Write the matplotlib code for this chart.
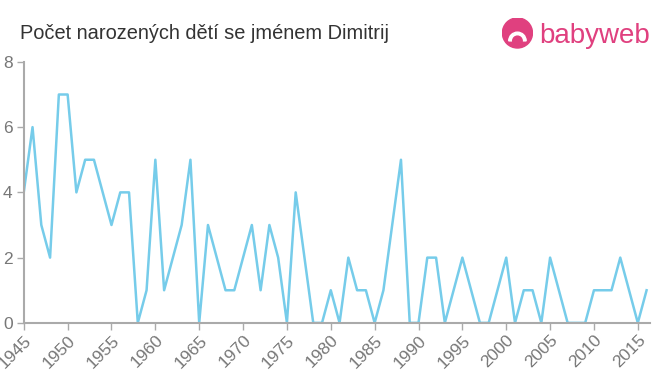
import matplotlib.pyplot as plt
from matplotlib.patches import Circle, Wedge

plt.rcParams['font.family'] = ['Liberation Sans', 'DejaVu Sans']

years = list(range(1945, 2017))
counts = [4, 6, 3, 2, 7, 7, 4, 5, 5, 4,
          3, 4, 4, 0, 1, 5, 1, 2, 3, 5,
          0, 3, 2, 1, 1, 2, 3, 1, 3, 2,
          0, 4, 2, 0, 0, 1, 0, 2, 1, 1,
          0, 1, 3, 5, 0, 0, 2, 2, 0, 1,
          2, 1, 0, 0, 1, 2, 0, 1, 1, 0,
          2, 1, 0, 0, 0, 1, 1, 1, 2, 1,
          0, 1]
xticks = list(range(1945, 2016, 5))
yticks = [0, 2, 4, 6, 8]

fig = plt.figure(figsize=(6.6, 3.75), dpi=100)
ax = fig.add_axes([0.036, 0.139, 0.949, 0.696])

ax.plot(years, counts, color='#76CCEA', linewidth=1.8)
ax.set_xlim(1945, 2016.4)
ax.set_ylim(0, 8)
ax.set_xticks(xticks)
ax.set_xticklabels([str(y) for y in xticks], rotation=45, ha='right', rotation_mode='anchor')
ax.set_yticks(yticks)

for s in ['top', 'right']:
    ax.spines[s].set_visible(False)
for s in ['left', 'bottom']:
    ax.spines[s].set_color('#AAAAAA')
    ax.spines[s].set_linewidth(1.5)
ax.tick_params(colors='#AAAAAA', labelcolor='#777777', labelsize=12.5, length=5, width=1)
ax.tick_params(axis='x', pad=2)
ax.tick_params(axis='y', pad=3)

fig.text(0.03, 0.91, 'Počet narozených dětí se jménem Dimitrij', fontsize=14.4,
         color='#333333', va='center')

# babyweb logo
pink = '#E0407F'
lax = fig.add_axes([0.76, 0.865, 0.048, 0.09])
lax.set_xlim(-1, 1)
lax.set_ylim(-1, 1)
lax.set_aspect('equal')
lax.axis('off')
lax.add_patch(Circle((0, 0.05), 0.95, color=pink))
lax.add_patch(Wedge((0, -0.45), 0.55, 0, 180, color='white'))
lax.add_patch(Circle((0, -0.45), 0.3, color=pink))
fig.text(0.817, 0.905, 'babyweb', fontsize=20, color=pink, va='center')

fig.savefig('out.png', dpi=100)
